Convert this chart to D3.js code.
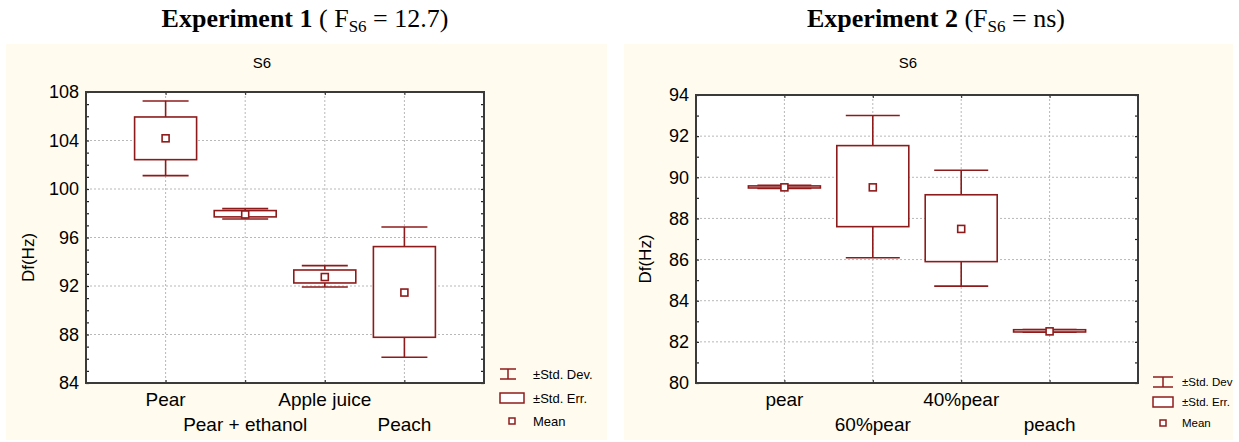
<!DOCTYPE html>
<html>
<head>
<meta charset="utf-8">
<script src="https://cdn.jsdelivr.net/npm/d3@7"></script>
<style>
  html, body { margin: 0; padding: 0; background: #ffffff; }
  svg { display: block; }
</style>
</head>
<body>
<svg id="chart" width="1239" height="442"></svg>
<script>
// Experiment 1: S6 sensor response per sample
const exp1Categories = ["Pear", "Pear + ethanol", "Apple juice", "Peach"];
const exp1Mean   = [104.18, 97.90, 92.74, 91.46];
const exp1SeLow  = [102.42, 97.70, 92.25, 87.77];
const exp1SeHigh = [105.94, 98.22, 93.32, 95.25];
const exp1SdLow  = [101.10, 97.53, 91.92, 86.12];
const exp1SdHigh = [107.26, 98.38, 93.68, 96.87];
const exp1Ticks  = [84, 88, 92, 96, 100, 104, 108];

// Experiment 2: S6 sensor response per sample
const exp2Categories = ["pear", "60%pear", "40%pear", "peach"];
const exp2Mean   = [89.51, 89.51, 87.49, 82.51];
const exp2SeLow  = [89.48, 87.60, 85.90, 82.48];
const exp2SeHigh = [89.58, 91.54, 89.15, 82.59];
const exp2SdLow  = [89.46, 86.09, 84.71, 82.47];
const exp2SdHigh = [89.61, 93.00, 90.34, 82.60];
const exp2Ticks  = [80, 82, 84, 86, 88, 90, 92, 94];

const MARK = "#8e1b1b";
const PANEL_BG = "#fffcef";
const FRAME = "#3a3a3a";
const SANS = "Arial, 'Liberation Sans', sans-serif";

const svg = d3.select("#chart");

function drawPanel(cfg) {
  const g = svg.append("g");

  // panel background
  g.append("rect")
    .attr("x", cfg.panel[0]).attr("y", cfg.panel[1])
    .attr("width", cfg.panel[2]).attr("height", cfg.panel[3])
    .attr("fill", PANEL_BG);

  // heading above the panel
  const t = g.append("text")
    .attr("x", cfg.titleX).attr("y", 27)
    .attr("text-anchor", "middle")
    .attr("font-family", "'Liberation Serif', 'Times New Roman', serif")
    .attr("font-size", 26)
    .attr("fill", "#000");
  t.append("tspan").attr("font-weight", "bold").text(cfg.titleBold);
  t.append("tspan").text(cfg.titlePre);
  t.append("tspan").attr("font-size", 17).attr("dy", 5).text("S6");
  t.append("tspan").attr("dy", -5).text(cfg.titlePost);

  // chart subtitle
  g.append("text")
    .attr("x", cfg.subX).attr("y", 68)
    .attr("text-anchor", "middle")
    .attr("font-family", SANS)
    .attr("font-size", 15)
    .text("S6");

  const [x0, x1, y0, y1] = cfg.plot; // left, right, top, bottom

  const x = d3.scalePoint().domain(cfg.categories).range([x0, x1]).padding(1);
  const y = d3.scaleLinear().domain(cfg.yDomain).range([y1, y0]);

  // plot area
  g.append("rect")
    .attr("x", x0).attr("y", y0)
    .attr("width", x1 - x0).attr("height", y1 - y0)
    .attr("fill", "#ffffff");

  // dotted grid
  g.append("g").selectAll("line")
    .data(cfg.ticks.filter(v => v !== cfg.yDomain[0] && v !== cfg.yDomain[1]))
    .join("line")
    .attr("x1", x0).attr("x2", x1)
    .attr("y1", d => y(d)).attr("y2", d => y(d))
    .attr("stroke", "#b8b8b8").attr("stroke-width", 1)
    .attr("stroke-dasharray", "2,2");
  g.append("g").selectAll("line")
    .data(cfg.categories)
    .join("line")
    .attr("x1", d => x(d)).attr("x2", d => x(d))
    .attr("y1", y0).attr("y2", y1)
    .attr("stroke", "#b8b8b8").attr("stroke-width", 1)
    .attr("stroke-dasharray", "2,2");

  // y axis labels
  const yAxis = d3.axisLeft(y).tickValues(cfg.ticks).tickSize(0).tickPadding(7)
    .tickFormat(d3.format("d"));
  const ya = g.append("g").attr("transform", `translate(${x0},0)`).call(yAxis);
  ya.select(".domain").remove();
  ya.selectAll("text")
    .attr("font-family", SANS)
    .attr("font-size", 18).attr("fill", "#000");

  // minor ticks on left and right edges
  const minor = d3.range(cfg.yDomain[0], cfg.yDomain[1] + 0.001, cfg.minorStep);
  const ml = g.append("g").attr("transform", `translate(${x0},0)`)
    .call(d3.axisRight(y).tickValues(minor).tickSize(3).tickFormat(""));
  ml.select(".domain").remove();
  const mr = g.append("g").attr("transform", `translate(${x1},0)`)
    .call(d3.axisLeft(y).tickValues(minor).tickSize(3).tickFormat(""));
  mr.select(".domain").remove();
  g.selectAll(".tick line").attr("stroke", "#222").attr("stroke-width", 1.2);

  // small ticks at category positions on bottom and top edges
  const bx = g.append("g").attr("transform", `translate(0,${y1})`)
    .call(d3.axisTop(x).tickSize(3).tickFormat(""));
  bx.select(".domain").remove();
  const tx = g.append("g").attr("transform", `translate(0,${y0})`)
    .call(d3.axisBottom(x).tickSize(3).tickFormat(""));
  tx.select(".domain").remove();
  bx.selectAll("line").attr("stroke", "#222");
  tx.selectAll("line").attr("stroke", "#222");

  // frame
  g.append("rect")
    .attr("x", x0).attr("y", y0)
    .attr("width", x1 - x0).attr("height", y1 - y0)
    .attr("fill", "none").attr("stroke", FRAME).attr("stroke-width", 2);

  // category labels, staggered on two rows
  g.append("g").selectAll("text")
    .data(cfg.categories)
    .join("text")
    .attr("x", d => x(d))
    .attr("y", (d, i) => i % 2 === 0 ? y1 + 23 : y1 + 48)
    .attr("text-anchor", "middle")
    .attr("font-family", SANS)
    .attr("font-size", 19)
    .text(d => d);

  // y axis title
  g.append("text")
    .attr("transform", `translate(${cfg.yTitleX},${(y0 + y1) / 2 + 20}) rotate(-90)`)
    .attr("text-anchor", "middle")
    .attr("font-family", SANS)
    .attr("font-size", 17)
    .text("Df(Hz)");

  const rows = cfg.categories.map((c, i) => ({
    c, mean: cfg.mean[i], seLo: cfg.seLow[i], seHi: cfg.seHigh[i],
    sdLo: cfg.sdLow[i], sdHi: cfg.sdHigh[i]
  }));
  const boxHalf = cfg.boxHalf, capHalf = cfg.capHalf;
  const marks = g.append("g").attr("fill", "none").attr("stroke", MARK).attr("stroke-width", 1.6);

  // whiskers (±SD)
  marks.selectAll("line.stemHi").data(rows).join("line").attr("class", "stemHi")
    .attr("x1", d => x(d.c)).attr("x2", d => x(d.c))
    .attr("y1", d => y(d.seHi)).attr("y2", d => y(d.sdHi));
  marks.selectAll("line.stemLo").data(rows).join("line").attr("class", "stemLo")
    .attr("x1", d => x(d.c)).attr("x2", d => x(d.c))
    .attr("y1", d => y(d.seLo)).attr("y2", d => y(d.sdLo));
  marks.selectAll("line.capHi").data(rows).join("line").attr("class", "capHi")
    .attr("x1", d => x(d.c) - capHalf).attr("x2", d => x(d.c) + capHalf)
    .attr("y1", d => y(d.sdHi)).attr("y2", d => y(d.sdHi));
  marks.selectAll("line.capLo").data(rows).join("line").attr("class", "capLo")
    .attr("x1", d => x(d.c) - capHalf).attr("x2", d => x(d.c) + capHalf)
    .attr("y1", d => y(d.sdLo)).attr("y2", d => y(d.sdLo));

  // boxes (±SE)
  marks.selectAll("rect.se").data(rows).join("rect").attr("class", "se")
    .attr("x", d => x(d.c) - boxHalf)
    .attr("y", d => y(d.seHi))
    .attr("width", boxHalf * 2)
    .attr("height", d => Math.max(1, y(d.seLo) - y(d.seHi)))
    .attr("fill", "#ffffff");

  // mean markers
  marks.selectAll("rect.mean").data(rows).join("rect").attr("class", "mean")
    .attr("x", d => x(d.c) - 3.5)
    .attr("y", d => y(d.mean) - 3.5)
    .attr("width", 7).attr("height", 7)
    .attr("fill", "#ffffff");

  // legend
  const L = cfg.legend;
  const lg = g.append("g");
  const sdY = L.y[0], seY = L.y[1], mY = L.y[2];
  lg.append("line").attr("x1", L.x).attr("x2", L.x + L.sdW).attr("y1", sdY - 5).attr("y2", sdY - 5);
  lg.append("line").attr("x1", L.x).attr("x2", L.x + L.sdW).attr("y1", sdY + 5).attr("y2", sdY + 5);
  lg.append("line").attr("x1", L.x + L.sdW / 2).attr("x2", L.x + L.sdW / 2).attr("y1", sdY - 5).attr("y2", sdY + 5);
  lg.append("rect").attr("x", L.x).attr("y", seY - 5).attr("width", L.boxW).attr("height", 10).attr("fill", "#fff");
  lg.append("rect").attr("x", L.meanX - 3).attr("y", mY - 3).attr("width", 6).attr("height", 6).attr("fill", "#fff");
  lg.selectAll("line, rect").attr("stroke", MARK).attr("stroke-width", 1.5);
  lg.selectAll("text").data(L.labels).join("text")
    .attr("x", L.textX).attr("y", (d, i) => L.y[i] + L.fs * 0.36)
    .attr("font-family", SANS)
    .attr("font-size", L.fs)
    .text(d => d);
}

drawPanel({
  panel: [6, 44, 601, 396],
  titleX: 305, titleBold: "Experiment 1", titlePre: " ( F", titlePost: " = 12.7)",
  subX: 262,
  plot: [86, 484, 92, 383],
  categories: exp1Categories,
  yDomain: [84, 108], ticks: exp1Ticks, minorStep: 1,
  mean: exp1Mean, seLow: exp1SeLow, seHigh: exp1SeHigh, sdLow: exp1SdLow, sdHigh: exp1SdHigh,
  boxHalf: 31, capHalf: 23,
  yTitleX: 34,
  legend: { x: 500, sdW: 16, boxW: 24, meanX: 512, textX: 533, y: [374, 398, 421], fs: 13,
            labels: ["\u00B1Std. Dev.", "\u00B1Std. Err.", "Mean"] }
});

drawPanel({
  panel: [624, 44, 609, 396],
  titleX: 936, titleBold: "Experiment 2", titlePre: " (F", titlePost: " = ns)",
  subX: 908,
  plot: [696, 1138, 95, 383],
  categories: exp2Categories,
  yDomain: [80, 94], ticks: exp2Ticks, minorStep: 1,
  mean: exp2Mean, seLow: exp2SeLow, seHigh: exp2SeHigh, sdLow: exp2SdLow, sdHigh: exp2SdHigh,
  boxHalf: 36, capHalf: 27,
  yTitleX: 651,
  legend: { x: 1153, sdW: 20, boxW: 20, meanX: 1163, textX: 1182, y: [382, 402, 423], fs: 11.5,
            labels: ["\u00B1Std. Dev", "\u00B1Std. Err.", "Mean"] }
});
</script>
</body>
</html>
